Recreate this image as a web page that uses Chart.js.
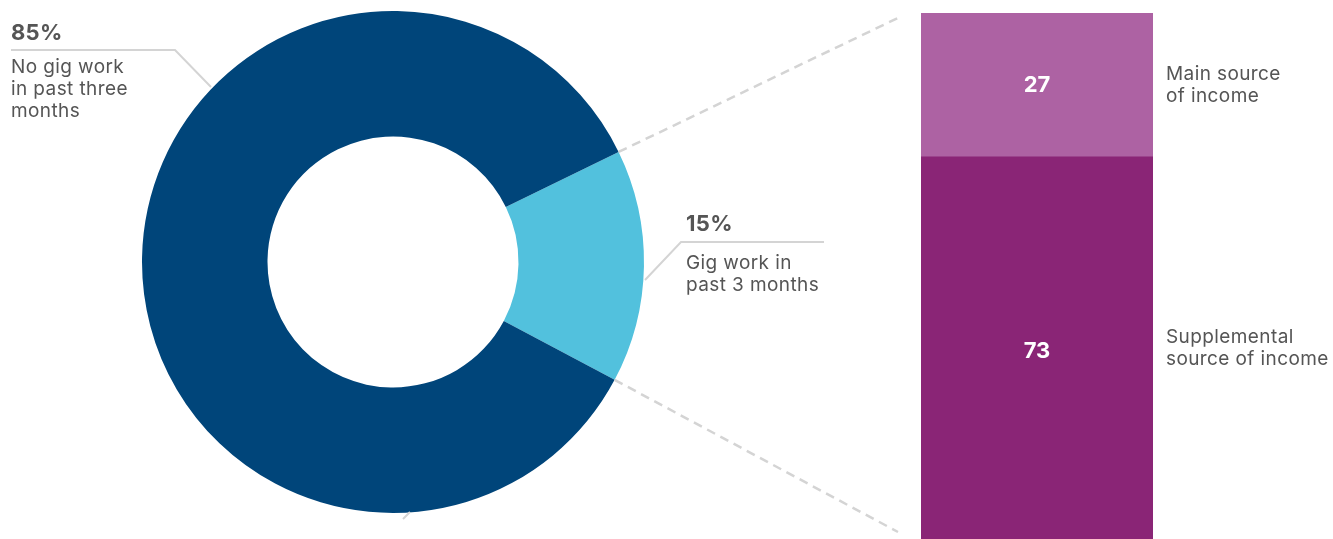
<!DOCTYPE html>
<html>
<head>
<meta charset="utf-8">
<script src="https://cdn.jsdelivr.net/npm/chart.js@4"></script>
<style>
  html, body { margin: 0; padding: 0; width: 1333px; height: 539px; overflow: hidden; background: #fff; }
  body { position: relative; font-family: Inter, "Noto Sans", sans-serif; color: #555; }
  #donutWrap { position: absolute; left: 0; top: 0; width: 1333px; height: 539px; }
  #barWrap { position: absolute; left: 921px; top: 0; width: 232px; height: 546px; }
  .lbl { position: absolute; font-size: 19px; line-height: 22px; letter-spacing: 0.4px; white-space: nowrap; }
  .pct { position: absolute; font-size: 22px; line-height: 26px; font-weight: 700; letter-spacing: 0.3px; }
</style>
</head>
<body>
<div id="donutWrap"><canvas id="donutChart"></canvas></div>
<div id="barWrap"><canvas id="barChart"></canvas></div>

<div class="pct" style="left:11px; top:19px;">85%</div>
<div class="lbl" style="left:11px; top:56px;">No gig work<br>in past three<br>months</div>
<div class="pct" style="left:686px; top:210px;">15%</div>
<div class="lbl" style="left:686px; top:252px;">Gig work in<br>past 3 months</div>
<div class="lbl" style="left:1166px; top:63px;">Main source<br>of income</div>
<div class="lbl" style="left:1166px; top:326px;">Supplemental<br>source of income</div>

<script>
// gig work share (doughnut)
const donutLabels = ["Gig work in past 3 months", "No gig work in past three months"];
const donutValues = [15, 85];
const donutColors = ["#52c1dd", "#00457a"];

// breakdown of gig workers (stacked bar)
const barCategories = ["Gig workers"];
const mainSource = [27];
const supplementalSource = [73];

const lineGray = "#d4d4d4";

// leader lines + dashed connector lines, drawn from the arc geometry
const connectorPlugin = {
  id: "connectors",
  afterDatasetsDraw(chart) {
    const ctx = chart.ctx;
    const arc = chart.getDatasetMeta(0).data[0];
    const cx = arc.x, cy = arc.y, r = arc.outerRadius;

    ctx.save();
    ctx.strokeStyle = lineGray;
    ctx.lineWidth = 2.5;

    // dashed lines from the small slice to the bar
    ctx.setLineDash([9, 6]);
    ctx.beginPath();
    ctx.moveTo(cx + r * Math.cos(arc.startAngle), cy + r * Math.sin(arc.startAngle));
    ctx.lineTo(902, 16);
    ctx.moveTo(cx + r * Math.cos(arc.endAngle), cy + r * Math.sin(arc.endAngle));
    ctx.lineTo(898, 532);
    ctx.stroke();

    // solid leader lines for the labels
    ctx.setLineDash([]);
    ctx.lineWidth = 2;
    ctx.beginPath();
    ctx.moveTo(11, 50);
    ctx.lineTo(175, 50);
    ctx.lineTo(211, 87);
    ctx.moveTo(824, 242);
    ctx.lineTo(681, 242);
    ctx.lineTo(645, 280);
    ctx.moveTo(403, 519);
    ctx.lineTo(410, 512);
    ctx.stroke();
    ctx.restore();
  }
};

new Chart(document.getElementById("donutChart").getContext("2d"), {
  type: "doughnut",
  data: {
    labels: donutLabels,
    datasets: [
      {
        data: donutValues,
        backgroundColor: donutColors,
        borderWidth: 0,
      },
    ],
  },
  options: {
    responsive: true,
    maintainAspectRatio: false,
    animation: false,
    cutout: "50%",
    rotation: 64,
    layout: { padding: { left: 142, right: 689, top: 11, bottom: 26 } },
    plugins: { legend: { display: false }, tooltip: { enabled: false } },
  },
  plugins: [connectorPlugin],
});

// white value labels in the middle of each bar segment
const barValuePlugin = {
  id: "barValues",
  afterDatasetsDraw(chart) {
    const ctx = chart.ctx;
    ctx.save();
    ctx.fillStyle = "#fff";
    ctx.font = "700 22px Inter, 'Noto Sans', sans-serif";
    ctx.textAlign = "center";
    ctx.textBaseline = "middle";
    chart.data.datasets.forEach((ds, i) => {
      chart.getDatasetMeta(i).data.forEach((bar, j) => {
        ctx.fillText(String(ds.data[j]), bar.x, (bar.y + bar.base) / 2);
      });
    });
    ctx.restore();
  }
};

new Chart(document.getElementById("barChart").getContext("2d"), {
  type: "bar",
  data: {
    labels: barCategories,
    datasets: [
      {
        label: "Supplemental source of income",
        data: supplementalSource,
        backgroundColor: "#8a2576",
        borderWidth: 0,
        barPercentage: 1,
        categoryPercentage: 1,
      },
      {
        label: "Main source of income",
        data: mainSource,
        backgroundColor: "#ad62a3",
        borderWidth: 0,
        barPercentage: 1,
        categoryPercentage: 1,
      },
    ],
  },
  options: {
    responsive: true,
    maintainAspectRatio: false,
    animation: false,
    layout: { padding: { top: 13, bottom: 0, left: 0, right: 0 } },
    scales: {
      x: { stacked: true, display: false },
      y: { stacked: true, display: false, min: 0, max: 100 },
    },
    plugins: { legend: { display: false }, tooltip: { enabled: false } },
  },
  plugins: [barValuePlugin],
});
</script>
</body>
</html>
